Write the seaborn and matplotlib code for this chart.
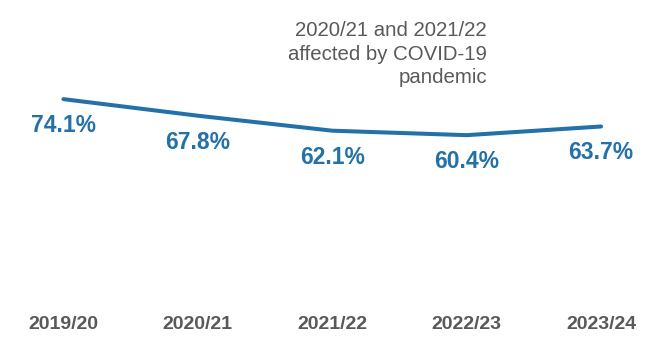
import numpy as np
import pandas as pd
import seaborn as sns
import matplotlib.pyplot as plt

years = ["2019/20", "2020/21", "2021/22", "2022/23", "2023/24"]
rates = [74.1, 67.8, 62.1, 60.4, 63.7]
note = "2020/21 and 2021/22\naffected by COVID-19\npandemic"

blue = "#2470A8"
grey = "#595959"

sns.set_theme(style="white")
plt.rcParams['font.family'] = ['Liberation Sans', 'DejaVu Sans']

df = pd.DataFrame({'Year': years, 'Rate': rates})

fig = plt.figure(figsize=(6.54, 3.56), dpi=100)
# axes: y=0 sits at ~294px from top, x positions 0..4 at 63..601px
ax = fig.add_axes([0, 62 / 356, 1, 294 / 356])
sns.lineplot(data=df, x='Year', y='Rate', color=blue, linewidth=2.9, sort=False, ax=ax)

for i, v in enumerate(rates):
    ax.annotate(f"{v}%", (i, v), xytext=(0, -19), textcoords='offset points',
                ha='center', va='center', fontsize=16.5, fontweight='bold', color=blue)

ax.set_xlim(-0.472, 4.394)
ax.set_ylim(0, 111.8)
ax.set_yticks([])
ax.set_xticks(range(len(years)))
ax.set_xticklabels(years, fontsize=14, fontweight='bold', color=grey)
ax.tick_params(axis='x', length=0, pad=15.5)
ax.set_xlabel('')
ax.set_ylabel('')
sns.despine(ax=ax, left=True, bottom=True)

fig.text(487 / 654, 1 - 21 / 356, note, ha='right', va='top', multialignment='right',
         fontsize=14.7, color=grey, linespacing=1.3)

fig.savefig('out.png', dpi=100)
